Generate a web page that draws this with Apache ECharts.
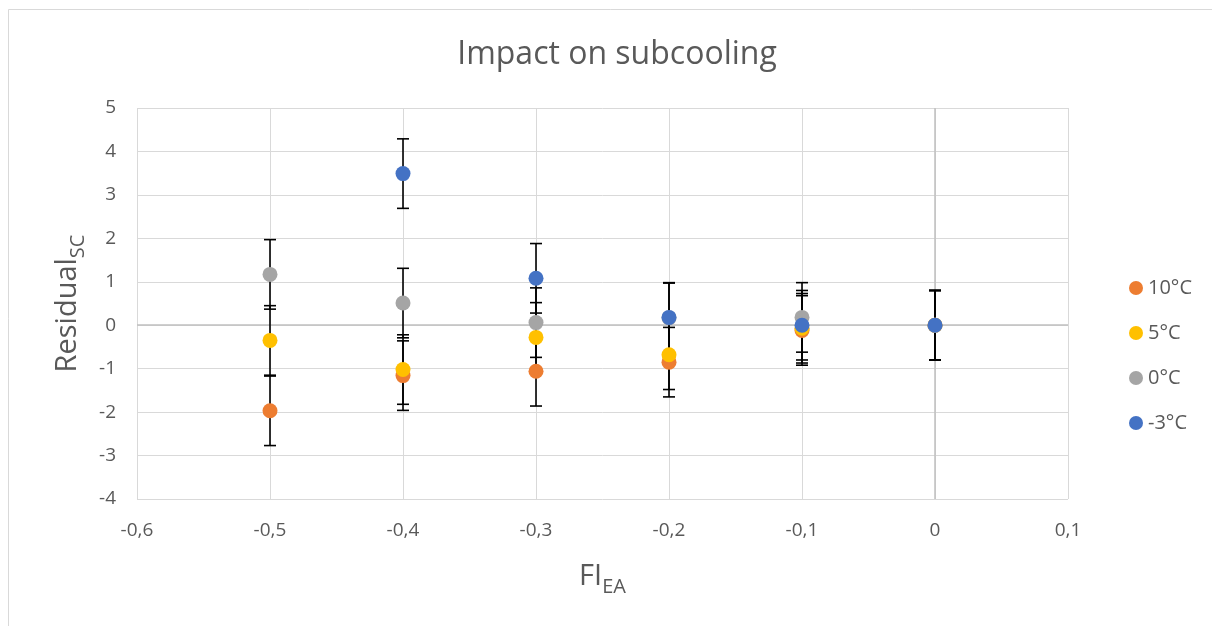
<!DOCTYPE html>
<html>
<head>
<meta charset="utf-8">
<script src="https://cdn.jsdelivr.net/npm/echarts@6/dist/echarts.min.js"></script>
<style>
html,body{margin:0;padding:0;background:#fff;}
#chart{width:1212px;height:626px;}
</style>
</head>
<body>
<div id="chart"></div>
<script>
// ---- data ----
var seriesNames = ['10°C', '5°C', '0°C', '-3°C'];
var seriesColors = ['#ED7D31', '#FFC000', '#A5A5A5', '#4472C4'];
var fiX = [-0.5, -0.4, -0.3, -0.2, -0.1, 0];
var fiXCold = [-0.4, -0.3, -0.2, -0.1, 0];
var res10 = [-1.97, -1.16, -1.06, -0.85, -0.12, 0];
var res5 = [-0.35, -1.02, -0.28, -0.68, -0.07, 0];
var res0 = [1.17, 0.51, 0.06, 0.17, 0.18, 0];
var resM3 = [3.49, 1.08, 0.18, 0.0, 0];
var err10 = [0.8, 0.8, 0.8, 0.8, 0.8, 0.8];
var err5 = [0.8, 0.8, 0.8, 0.8, 0.8, 0.8];
var err0 = [0.8, 0.8, 0.8, 0.8, 0.8, 0.8];
var errM3 = [0.8, 0.8, 0.8, 0.8, 0.8];
var xTicks = [-0.6, 0.1, 0.1]; // min, max, interval
var yTicks = [-4, 5, 1];       // min, max, interval

var xs = [fiX, fiX, fiX, fiXCold];
var ys = [res10, res5, res0, resM3];
var errs = [err10, err5, err0, errM3];

var FONT = "'Open Sans', sans-serif";
var TXT = '#595959';

function pairs(xa, ya) { return xa.map(function (x, i) { return [x, ya[i]]; }); }

var errData = [];
for (var s = 0; s < 4; s++) {
  for (var i = 0; i < xs[s].length; i++) {
    errData.push([xs[s][i], ys[s][i], errs[s][i]]);
  }
}

function fmt(v) { return String(Math.round(v * 10) / 10).replace('.', ','); }

var series = [{
  type: 'scatter',
  name: 'zero-lines',
  z: 0,
  silent: true,
  data: [],
  markLine: {
    z: 0,
    silent: true,
    symbol: 'none',
    label: { show: false },
    lineStyle: { color: '#BFBFBF', width: 1.5, type: 'solid' },
    data: [{ yAxis: 0 }, { xAxis: 0 }]
  }
}, {
  type: 'custom',
  name: 'errors',
  z: 2,
  silent: true,
  data: errData,
  renderItem: function (params, api) {
    var x = api.value(0), y = api.value(1), e = api.value(2);
    var top = api.coord([x, y + e]);
    var bot = api.coord([x, y - e]);
    var w = 6;
    var st = { stroke: '#000', lineWidth: 1.6 };
    return {
      type: 'group',
      children: [
        { type: 'line', shape: { x1: top[0], y1: top[1], x2: bot[0], y2: bot[1] }, style: st },
        { type: 'line', shape: { x1: top[0] - w, y1: top[1], x2: top[0] + w, y2: top[1] }, style: st },
        { type: 'line', shape: { x1: bot[0] - w, y1: bot[1], x2: bot[0] + w, y2: bot[1] }, style: st }
      ]
    };
  }
}];
for (var k = 0; k < 4; k++) {
  series.push({
    type: 'scatter',
    name: seriesNames[k],
    z: 3 + k,
    symbol: 'circle',
    symbolSize: 15,
    itemStyle: { color: seriesColors[k], opacity: 1 },
    data: pairs(xs[k], ys[k])
  });
}

var chart = echarts.init(document.getElementById('chart'), null, { renderer: 'canvas' });
chart.setOption({
  animation: false,
  backgroundColor: '#fff',
  textStyle: { fontFamily: FONT },
  title: {
    text: 'Impact on subcooling',
    left: 612,
    textAlign: 'center',
    top: 33,
    textStyle: { fontFamily: FONT, fontSize: 32, fontWeight: 'normal', color: TXT, lineHeight: 34 }
  },
  graphic: [{
    type: 'rect',
    silent: true,
    z: -10,
    shape: { x: 8.5, y: 9.5, width: 1400, height: 1000 },
    style: { fill: null, stroke: '#D9D9D9', lineWidth: 1 }
  }],
  legend: {
    orient: 'vertical',
    left: 1124,
    top: 273,
    itemWidth: 14,
    itemHeight: 14,
    itemGap: 25,
    itemTextGap: 6,
    icon: 'circle',
    data: seriesNames,
    textStyle: { fontFamily: FONT, fontSize: 20, color: TXT, lineHeight: 20 }
  },
  grid: { left: 137, right: 144, top: 108, bottom: 127, containLabel: false },
  xAxis: {
    type: 'value',
    min: xTicks[0], max: xTicks[1], interval: xTicks[2],
    axisLine: { show: false },
    axisTick: { show: false },
    splitLine: { show: true, lineStyle: { color: '#D9D9D9', width: 1 } },
    axisLabel: { formatter: fmt, fontFamily: FONT, fontSize: 19, color: TXT, margin: 22 },
    name: '{a|FI}{b|EA}',
    nameLocation: 'middle',
    nameGap: 58,
    nameTextStyle: {
      rich: {
        a: { fontFamily: FONT, fontSize: 29, color: TXT },
        b: { fontFamily: FONT, fontSize: 20, color: TXT, padding: [20, 0, 0, 0] }
      }
    }
  },
  yAxis: {
    type: 'value',
    min: yTicks[0], max: yTicks[1], interval: yTicks[2],
    axisLine: { show: false },
    axisTick: { show: false },
    splitLine: { show: true, lineStyle: { color: '#D9D9D9', width: 1 } },
    axisLabel: { fontFamily: FONT, fontSize: 19, color: TXT, margin: 21 },
    name: '{a|Residual}{b|SC}',
    nameLocation: 'middle',
    nameRotate: 90,
    nameGap: 46,
    nameTextStyle: {
      rich: {
        a: { fontFamily: FONT, fontSize: 29, color: TXT },
        b: { fontFamily: FONT, fontSize: 20, color: TXT, padding: [20, 0, 0, 0] }
      }
    }
  },
  series: series
});
</script>
</body>
</html>
